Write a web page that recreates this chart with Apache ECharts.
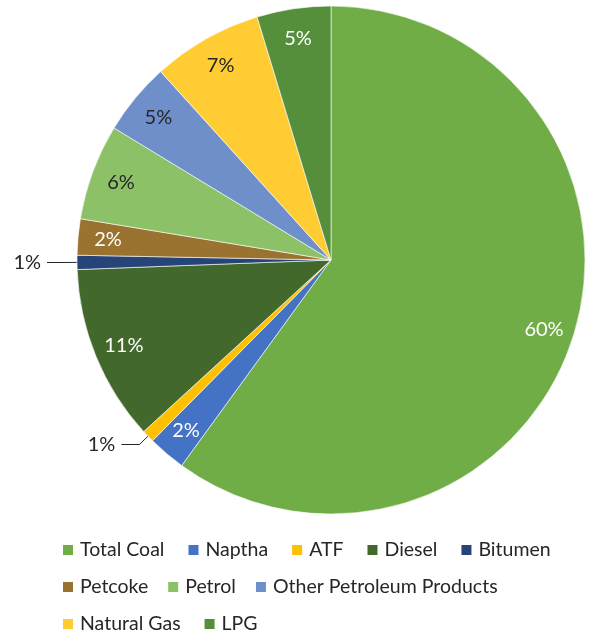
<!DOCTYPE html>
<html><head><meta charset="utf-8">
<script src="https://cdn.jsdelivr.net/npm/echarts@6/dist/echarts.min.js"></script>
<style>html,body{margin:0;padding:0;background:#fff}#c{width:608px;height:637px}</style>
</head><body><div id="c"></div>
<script>
const categories = ['Total Coal','Naptha','ATF','Diesel','Bitumen','Petcoke','Petrol','Other Petroleum Products','Natural Gas','LPG'];
const values = [60.0, 2.4, 0.8, 11.2, 0.9, 2.3, 6.1, 4.6, 7.0, 4.7];
const colors = ['#70AD47','#4472C4','#FFC000','#43682B','#264478','#9B7330','#8CC168','#6F8FCB','#FFCD33','#558F3B'];
const darkLabelNames = ['Petrol','Other Petroleum Products','Natural Gas'];
const outsideLabelNames = ['ATF','Bitumen'];
const legendRow1 = ['Total Coal','Naptha','ATF','Diesel','Bitumen'];
const legendRow2 = ['Petcoke','Petrol','Other Petroleum Products'];
const legendRow3 = ['Natural Gas','LPG'];

const FONT = 'Lato, "Open Sans", sans-serif';
const chart = echarts.init(document.getElementById('c'));
const center = [331, 260];
const R = 254;
const fmt = p => Math.round(p.percent) + '%';

const mainData = categories.map((n, i) => {
  const outside = outsideLabelNames.includes(n);
  return {
    name: n, value: values[i],
    itemStyle: { color: colors[i] },
    label: { show: outside },
    labelLine: { show: outside }
  };
});
const overlayData = categories.map((n, i) => ({
  name: n, value: values[i],
  label: {
    show: !outsideLabelNames.includes(n),
    color: darkLabelNames.includes(n) ? '#262626' : '#ffffff'
  }
}));

function legend(row, top, gap) {
  return {
    data: row, left: 56, top: top, orient: 'horizontal',
    icon: 'rect', itemWidth: 12, itemHeight: 12, itemGap: gap,
    textStyle: { fontFamily: FONT, fontSize: 19.5, color: '#262626', padding: [0,0,0,1] },
    selectedMode: false
  };
}

chart.setOption({
  animation: false,
  legend: [legend(legendRow1, 535, 22), legend(legendRow2, 572, 18), legend(legendRow3, 609, 22)],
  series: [
    {
      type: 'pie', name: 'main', center: center, radius: [0, R],
      startAngle: 90, clockwise: true, avoidLabelOverlap: false,
      itemStyle: { borderColor: '#ffffff', borderWidth: 0.6 },
      label: { position: 'outside', formatter: fmt, fontFamily: FONT, fontSize: 20, color: '#262626', distanceToLabelLine: 6 },
      labelLine: { length: 12, length2: 18, lineStyle: { color: '#262626', width: 1 } },
      emphasis: { disabled: true },
      data: mainData
    },
    {
      type: 'pie', name: 'labels', center: center, radius: [R * 0.74, R],
      startAngle: 90, clockwise: true, silent: true, avoidLabelOverlap: false,
      itemStyle: { color: 'rgba(0,0,0,0)' },
      label: { position: 'inside', formatter: fmt, fontFamily: FONT, fontSize: 20 },
      labelLine: { show: false },
      emphasis: { disabled: true },
      data: overlayData
    }
  ]
});
</script></body></html>
